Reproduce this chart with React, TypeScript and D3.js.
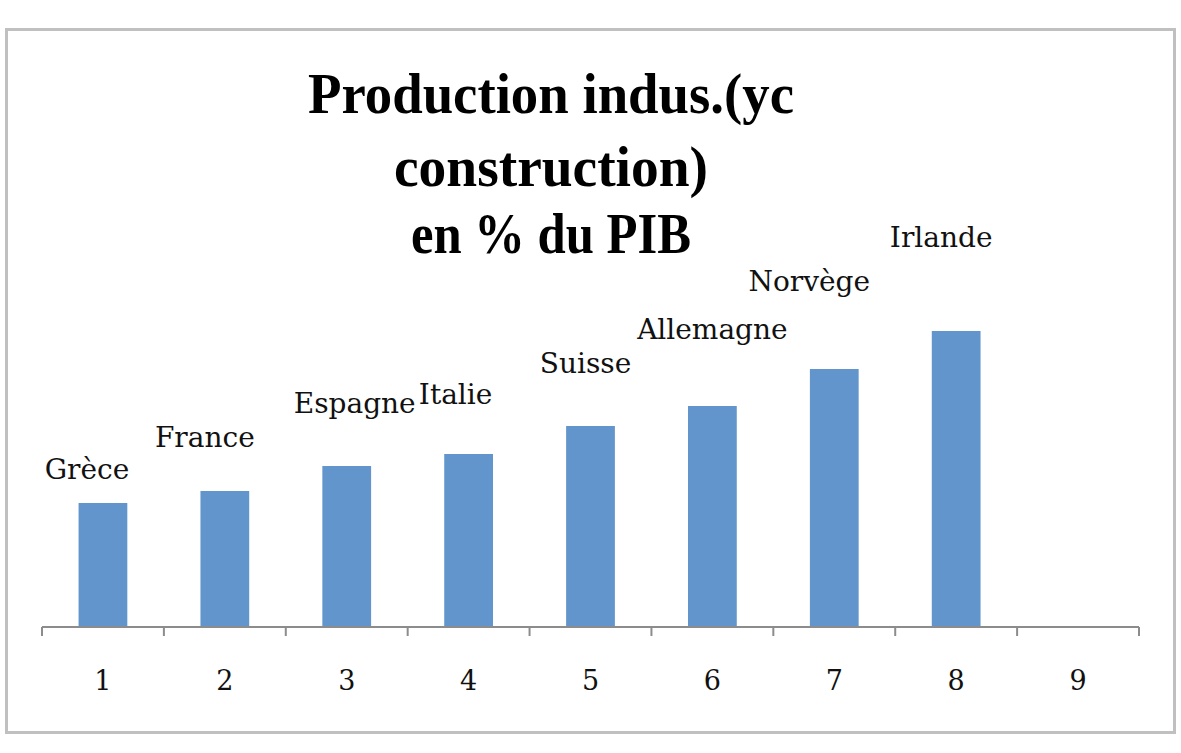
import React, { useEffect, useRef } from 'react'
import * as d3 from 'd3'

// categories shown on the x axis (9th slot is empty)
const categories: string[] = ['1', '2', '3', '4', '5', '6', '7', '8', '9']
const countries: string[] = [
  'Grèce',
  'France',
  'Espagne',
  'Italie',
  'Suisse',
  'Allemagne',
  'Norvège',
  'Irlande',
]
// industrial production (incl. construction) in % of GDP
const values: number[] = [12.4, 13.6, 16.1, 17.3, 20.1, 22.1, 25.8, 29.6]
const titleLines: string[] = ['Production indus.(yc', 'construction)', 'en % du PIB']

// manual label nudges (dx from bar centre, dy from bar top), as in the original
const labelDx: number[] = [-16, -20, 8, -13, -5, 0, -25, -15]
const labelDy: number[] = [-24, -44, -53, -50, -53, -67, -78, -84]

const W = 1181
const H = 753

const App: React.FC = () => {
  const svgRef = useRef<SVGSVGElement>(null)

  useEffect(() => {
    if (!svgRef.current) return
    const svg = d3.select(svgRef.current)
    svg.selectAll('*').remove()

    // outer frame
    svg
      .append('rect')
      .attr('x', 6.5)
      .attr('y', 29.5)
      .attr('width', 1168)
      .attr('height', 703)
      .attr('fill', '#fff')
      .attr('stroke', '#c0c0c0')
      .attr('stroke-width', 3)

    const x0 = 42
    const x1 = 1139
    const axisY = 627

    const xScale = d3.scaleBand<string>().domain(categories).range([x0, x1]).padding(0)
    const yScale = d3.scaleLinear().domain([0, 40]).range([axisY, axisY - 400])

    const barW = xScale.bandwidth() * 0.4

    // title
    const titleBase = [113, 186, 253]
    const titleWidths = [486, 314, 280]
    svg
      .append('g')
      .selectAll('text')
      .data(titleLines)
      .enter()
      .append('text')
      .attr('x', 551)
      .attr('y', (_, i) => titleBase[i])
      .attr('text-anchor', 'middle')
      .attr('font-family', '"Liberation Serif", serif')
      .attr('font-weight', 'bold')
      .attr('font-size', 57)
      .attr('textLength', (_, i) => titleWidths[i])
      .attr('lengthAdjust', 'spacingAndGlyphs')
      .attr('fill', '#000')
      .text((d) => d)

    // bars
    svg
      .append('g')
      .selectAll('rect')
      .data(values)
      .enter()
      .append('rect')
      .attr('x', (_, i) => (xScale(categories[i]) as number) + (xScale.bandwidth() - barW) / 2)
      .attr('y', (d) => yScale(d))
      .attr('width', barW)
      .attr('height', (d) => yScale(0) - yScale(d))
      .attr('fill', '#6195cb')

    // x axis
    const axisG = svg.append('g').attr('stroke', '#8c8c8c').attr('stroke-width', 2)
    axisG.append('line').attr('x1', x0).attr('x2', x1).attr('y1', axisY).attr('y2', axisY)
    const tickXs = categories.map((c) => xScale(c) as number).concat([x1])
    axisG
      .selectAll('line.tick')
      .data(tickXs)
      .enter()
      .append('line')
      .attr('class', 'tick')
      .attr('x1', (d) => d)
      .attr('x2', (d) => d)
      .attr('y1', axisY)
      .attr('y2', axisY + 9)

    svg
      .append('g')
      .selectAll('text')
      .data(categories)
      .enter()
      .append('text')
      .attr('x', (d) => (xScale(d) as number) + xScale.bandwidth() / 2)
      .attr('y', 690)
      .attr('text-anchor', 'middle')
      .attr('font-family', '"DejaVu Serif", serif')
      .attr('font-size', 27)
      .attr('fill', '#111')
      .text((d) => d)

    // data labels (country names)
    svg
      .append('g')
      .selectAll('text')
      .data(values)
      .enter()
      .append('text')
      .attr('x', (_, i) => (xScale(categories[i]) as number) + xScale.bandwidth() / 2 + labelDx[i])
      .attr('y', (d, i) => yScale(d) + labelDy[i])
      .attr('text-anchor', 'middle')
      .attr('font-family', '"DejaVu Serif", serif')
      .attr('font-size', 28)
      .attr('fill', '#111')
      .text((_, i) => countries[i])
  }, [])

  return (
    <div style={{ position: 'absolute', left: 0, top: 0 }}>
      <svg ref={svgRef} width={W} height={H} style={{ display: 'block', background: '#fff' }} />
    </div>
  )
}

export default App
